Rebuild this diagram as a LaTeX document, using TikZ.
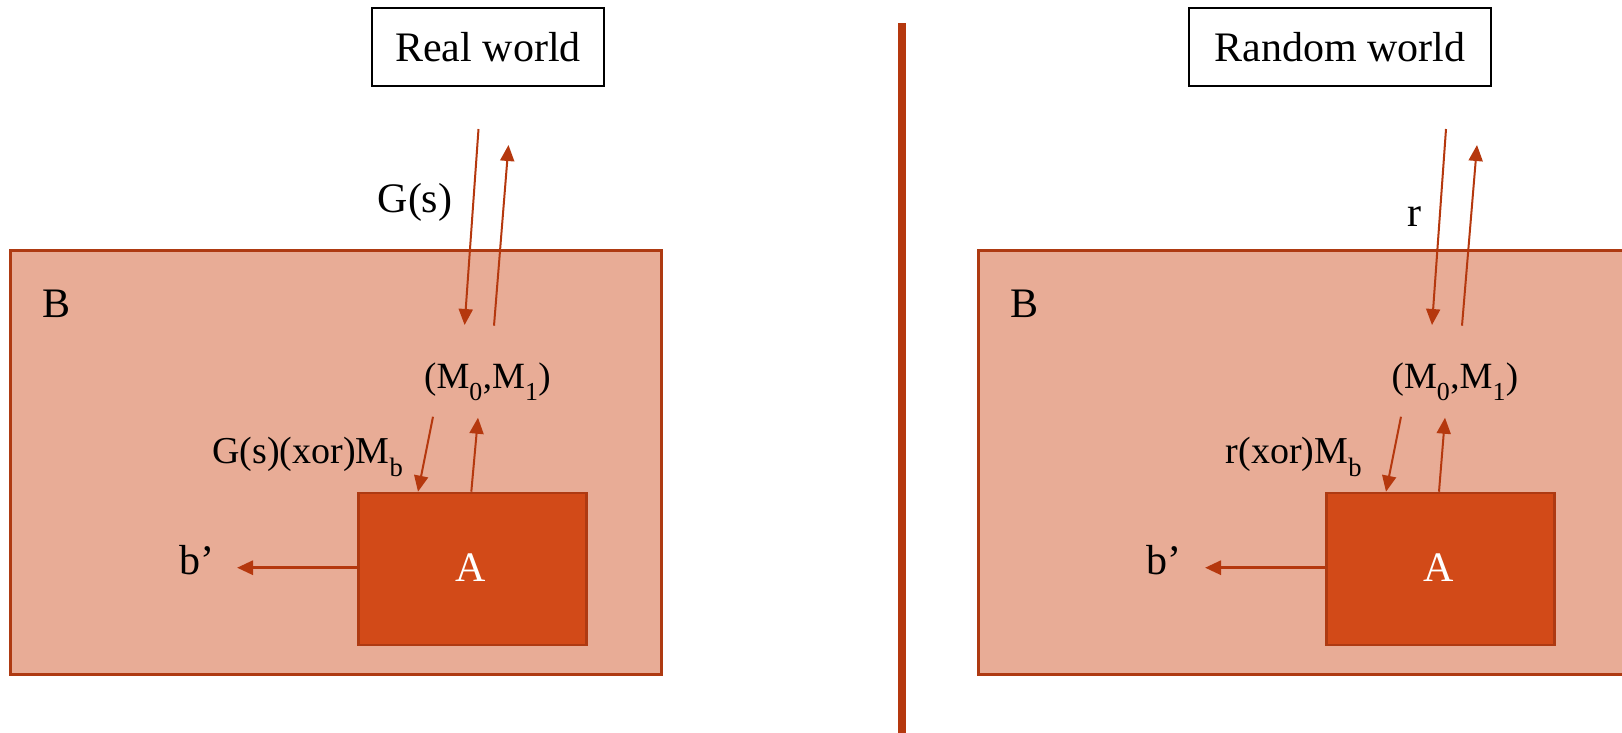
\documentclass[tikz,border=0pt]{standalone}
\usepackage{fontspec}
\setmainfont{Liberation Serif}
\usetikzlibrary{arrows.meta}
\definecolor{bfill}{HTML}{E8AC96}
\definecolor{bline}{HTML}{AE3A12}
\definecolor{afill}{HTML}{D24A18}
\definecolor{arr}{HTML}{B5380E}
\newcommand\lowsub[1]{\raisebox{-0.1em}{\textsubscript{#1}}}
\tikzset{
 big/.style={font=\fontsize{42}{48}\selectfont},
 mid/.style={font=\fontsize{37}{42}\selectfont},
 sml/.style={font=\fontsize{38}{43}\selectfont},
 link/.style={draw=arr, line width=2pt, -{Triangle[length=16pt,width=14pt]}},
 outlink/.style={link, line width=3pt},
 worldbox/.style={draw=black, line width=2pt, minimum height=78pt, inner sep=0pt, big},
 bbox/.style={draw=bline, fill=bfill, line width=2.5pt, anchor=north west, inner sep=0pt},
 abox/.style={draw=bline, fill=afill, line width=2.5pt, anchor=north west, inner sep=0pt},
 lbl/.style={anchor=base, inner sep=0pt},
 divider/.style={draw=arr, line width=8pt},
}
\begin{document}
\begin{tikzpicture}[x=1pt,y=-1pt]
\useasboundingbox (0,0) rectangle (1622,732);
\clip (0,0) rectangle (1622,732);
% divider
\coordinate (divtop) at (902,23);
\coordinate (divbot) at (902,740);
\draw[divider] (divtop) -- (divbot);
% world boxes
\node[worldbox, minimum width=232pt] (real) at (488,47) {Real world};
\node[worldbox, minimum width=302pt] (rand) at (1340,47) {Random world};
% B boxes
\node[bbox, minimum width=651pt, minimum height=424pt] (Bl) at (9.3,249.3) {};
\node[bbox, minimum width=660pt, minimum height=424pt] (Br) at (977,249.3) {};
% A boxes
\node[abox, minimum width=228pt, minimum height=152pt] (Al) at (357,491.7) {};
\node[abox, minimum width=228pt, minimum height=152pt] (Ar) at (1325,491.7) {};
% labels left
\node[lbl, big] (Bll) at (57,317) {B};
\node[lbl, big] (gs) at (415,212) {G(s)};
\node[lbl, mid] (mml) at (487.5,388) {(M\lowsub{0},M\lowsub{1})};
\node[lbl, sml] (xl) at (308,463) {G(s)(xor)M\lowsub{b}};
\node[lbl, big, text=white] (Atl) at (471,581) {A};
\node[lbl, big] (bpl) at (197,574) {b’};
% labels right
\node[lbl, big] (Brl) at (1024,317) {B};
\node[lbl, big] (rl) at (1414,226) {r};
\node[lbl, mid] (mmr) at (1455,388) {(M\lowsub{0},M\lowsub{1})};
\node[lbl, sml] (xr) at (1294,463) {r(xor)M\lowsub{b}};
\node[lbl, big, text=white] (Atr) at (1438.5,581) {A};
\node[lbl, big] (bpr) at (1164,574) {b’};
% arrow end points left
\coordinate (l1s) at (478.5,129); \coordinate (l1e) at (464.6,325);
\coordinate (l2s) at (494,325.7); \coordinate (l2e) at (508.5,145);
\coordinate (l3s) at (433,416.7); \coordinate (l3e) at (418,491.7);
\coordinate (l4s) at (471.3,491.7); \coordinate (l4e) at (478,417.7);
\coordinate (l5e) at (237,567.7);
% arrow end points right
\coordinate (r1s) at (1446,129); \coordinate (r1e) at (1432,325);
\coordinate (r2s) at (1462,325.7); \coordinate (r2e) at (1477,145);
\coordinate (r3s) at (1401,416.7); \coordinate (r3e) at (1386,491.7);
\coordinate (r4s) at (1439,491.7); \coordinate (r4e) at (1445,417.7);
\coordinate (r5e) at (1205,567.7);
% arrows
\draw[link] (l1s) -- (l1e);
\draw[link] (l2s) -- (l2e);
\draw[link] (l3s) -- (l3e);
\draw[link] (l4s) -- (l4e);
\draw[outlink] (Al.west |- l5e) -- (l5e);
\draw[link] (r1s) -- (r1e);
\draw[link] (r2s) -- (r2e);
\draw[link] (r3s) -- (r3e);
\draw[link] (r4s) -- (r4e);
\draw[outlink] (Ar.west |- r5e) -- (r5e);
\end{tikzpicture}
\end{document}
